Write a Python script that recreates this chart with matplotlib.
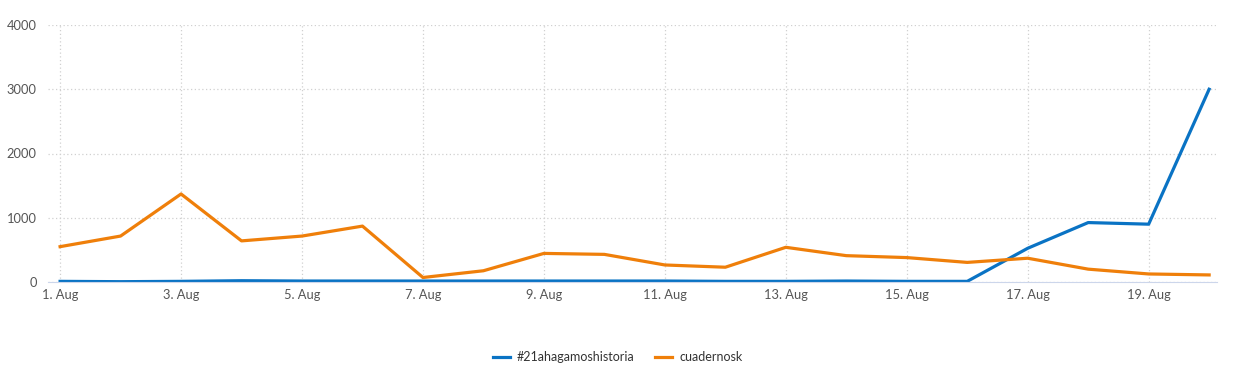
import matplotlib.pyplot as plt
import numpy as np

plt.rcParams['font.family'] = ['Lato', 'DejaVu Sans']

days = list(range(1, 21))
hashtag = [10, 5, 10, 20, 15, 15, 15, 15, 15, 15, 15, 10, 10, 15, 10, 10, 525, 925, 900, 3000]
cuadernosk = [550, 715, 1370, 640, 715, 870, 70, 175, 445, 430, 265, 230, 540, 410, 380, 305, 370, 200, 125, 110]
tick_days = [1, 3, 5, 7, 9, 11, 13, 15, 17, 19]
tick_labels = [f'{d}. Aug' for d in tick_days]
y_ticks = [0, 1000, 2000, 3000, 4000]

fig = plt.figure(figsize=(12.35, 3.84), dpi=100)
ax = fig.add_axes([48 / 1235, 1 - 282 / 384, (1217 - 48) / 1235, (282 - 25) / 384])

ax.plot(days, hashtag, color='#0a73c4', lw=2.3, label='#21ahagamoshistoria', solid_joinstyle='round')
ax.plot(days, cuadernosk, color='#ef7f0a', lw=2.3, label='cuadernosk', solid_joinstyle='round')

ax.set_xlim(0.8, 20.13)
ax.set_ylim(0, 4000)
ax.set_xticks(tick_days)
ax.set_xticklabels(tick_labels)
ax.set_yticks(y_ticks)
ax.set_yticklabels([str(v) for v in y_ticks])

ax.grid(True, color='#d0d0d0', linestyle=(0, (1, 2)), lw=0.9)
ax.set_axisbelow(True)
for s in ['top', 'right', 'left']:
    ax.spines[s].set_visible(False)
ax.spines['bottom'].set_color('#ccd6eb')
ax.tick_params(axis='x', length=0, pad=5, labelsize=9.3, labelcolor='#555555')
ax.tick_params(axis='y', length=0, pad=8, labelsize=9.3, labelcolor='#555555')

fig.legend(loc='center', bbox_to_anchor=(0.5, 1 - 357 / 384), ncol=2, frameon=False,
           fontsize=9, handlelength=1.4, handletextpad=0.55, columnspacing=1.6,
           labelcolor='#333333')

fig.savefig('out.png', dpi=100)
